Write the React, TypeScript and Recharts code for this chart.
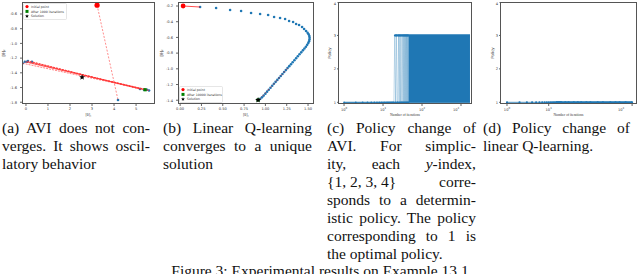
import React from 'react';
import {ScatterChart, Scatter, ComposedChart, Line, Area, XAxis, YAxis, Label} from 'recharts';

const BLUE = '#1f77b4';

// (a) AVI iterates in the (θ1, θ2) plane
const aviInitial = [{x: 3.23, y: -0.48}];
const aviFirstJump = [{x: 3.23, y: -0.48}, {x: 4.18, y: -1.77}];
const aviSwing = [
  {x: -0.15, y: -1.27}, {x: 5.59, y: -1.64}, {x: -0.05, y: -1.25}, {x: 5.5, y: -1.63},
  {x: 0.05, y: -1.25}, {x: 5.36, y: -1.63}, {x: 0.09, y: -1.24}, {x: 5.18, y: -1.62},
  {x: 0.27, y: -1.25},
];
const aviIterates = [...aviSwing, {x: 4.18, y: -1.77}];
const aviLast = [{x: 5.41, y: -1.63}];
const aviSolution = [{x: 2.55, y: -1.46}];
const aviXTicks = [0, 1, 2, 3, 4, 5];
const aviYTicks = [-0.6, -0.8, -1.0, -1.2, -1.4, -1.6, -1.8];

// (b) linear Q-learning iterates
const qInitial = [{x: 0.035, y: -0.2}];
const qPath = [
  {x: 0.035, y: -0.2}, {x: 0.234, y: -0.213}, {x: 0.422, y: -0.225}, {x: 0.586, y: -0.251},
  {x: 0.715, y: -0.264}, {x: 0.832, y: -0.289}, {x: 0.938, y: -0.302}, {x: 1.032, y: -0.315},
  {x: 1.102, y: -0.34}, {x: 1.172, y: -0.353}, {x: 1.231, y: -0.366}, {x: 1.278, y: -0.391},
  {x: 1.325, y: -0.404}, {x: 1.36, y: -0.429}, {x: 1.395, y: -0.442}, {x: 1.43, y: -0.468},
  {x: 1.454, y: -0.493}, {x: 1.477, y: -0.518}, {x: 1.495, y: -0.54}, {x: 1.507, y: -0.56},
  {x: 1.515, y: -0.582}, {x: 1.518, y: -0.605}, {x: 1.517, y: -0.628}, {x: 1.512, y: -0.65},
  {x: 1.503, y: -0.672}, {x: 1.49, y: -0.695}, {x: 1.475, y: -0.718}, {x: 1.458, y: -0.742},
  {x: 1.44, y: -0.765}, {x: 1.42, y: -0.79}, {x: 1.4, y: -0.815}, {x: 1.38, y: -0.84},
  {x: 1.36, y: -0.866}, {x: 1.34, y: -0.891}, {x: 1.32, y: -0.916}, {x: 1.3, y: -0.941},
  {x: 1.28, y: -0.966}, {x: 1.26, y: -0.991}, {x: 1.24, y: -1.016}, {x: 1.22, y: -1.041},
  {x: 1.2, y: -1.066}, {x: 1.18, y: -1.091}, {x: 1.16, y: -1.116}, {x: 1.14, y: -1.141},
  {x: 1.12, y: -1.166}, {x: 1.1, y: -1.191}, {x: 1.08, y: -1.216}, {x: 1.06, y: -1.241},
  {x: 1.04, y: -1.266}, {x: 1.02, y: -1.291}, {x: 1.0, y: -1.316}, {x: 0.98, y: -1.341},
  {x: 0.96, y: -1.363}, {x: 0.94, y: -1.382}, {x: 0.925, y: -1.393},
];
const qRedStart = [{x: 0.035, y: -0.2}, {x: 0.234, y: -0.213}];
const qRedTail = [{x: 1.26, y: -0.991}, {x: 1.1, y: -1.191}, {x: 0.925, y: -1.393}];
const qSolution = [{x: 0.914, y: -1.397}];
const qXTicks = [0, 0.25, 0.5, 0.75, 1.0, 1.25, 1.5];
const qYTicks = [-0.2, -0.4, -0.6, -0.8, -1.0, -1.2, -1.4];

// (c) AVI policy index per iteration (iteration = position + 1)
const aviPolicy = [
  1, 1, 1, 1, 1, 1, 1, 1, 1, 1, 1, 1, 1, 1, 1, 1, 1, 1, 1,
  3, 1, 3, 1, 1, 3, 1, 3, 1, 3, 1, 1, 3, 1, 3, 1, 3, 1, 3, 1, 3, 1, 3, 1, 3, 1,
];
const aviBandIters = [45, 1700];
const aviBandLow = 1;
const aviBandHigh = 3;
const aviTopIters = [20, 1700];
const aviBottomIters = [1, 1700];

// (d) linear Q-learning policy index
const qIters = [1, 2, 3, 4, 5, 6, 7, 8, 9, 10, 11, 12, 13, 14, 15, 16, 17, 18, 19, 20,
  25, 30, 40, 50, 60, 80, 100, 150, 200, 300, 400, 500, 700, 1000];
const qPolicy = [1, 1, 1, 1, 1, 1, 1, 1, 1, 1, 1, 1, 1, 1, 1, 1, 1, 1, 1, 1,
  1, 1, 1, 1, 1, 1, 1, 1, 1, 1, 1, 1, 1, 1];
const qDenseIters = [15, 1000];

const logTicks = [1, 10, 100, 1000];
const policyTicks = [1, 2, 3, 4];

const aviRows = [
  ...aviPolicy.map((p, i) => ({it: i + 1, policy: p})),
  ...aviBandIters.map((it) => ({it, band: [aviBandLow, aviBandHigh]})),
  ...aviTopIters.map((it) => ({it, top: aviBandHigh})),
  ...aviBottomIters.map((it) => ({it, bottom: aviBandLow})),
].sort((a, b) => a.it - b.it);

const qRows = [
  ...qIters.map((it, i) => ({it, policy: qPolicy[i]})),
  ...qDenseIters.map((it) => ({it, dense: 1})),
].sort((a, b) => a.it - b.it);

const tickStyle = {fontSize: 3.6, fill: '#333', fontFamily: 'DejaVu Sans'};

const dot = (r: number, fill: string) => (p: any) => <circle cx={p.cx} cy={p.cy} r={r} fill={fill} />;
const square = (s: number, fill: string) => (p: any) =>
  <rect x={p.cx - s / 2} y={p.cy - s / 2} width={s} height={s} fill={fill} />;
const starPath = (cx: number, cy: number, r: number) => {
  const pts = [];
  for (let i = 0; i < 10; i++) {
    const rr = i % 2 === 0 ? r : r * 0.45;
    const a = -Math.PI / 2 + (i * Math.PI) / 5;
    pts.push(`${cx + rr * Math.cos(a)},${cy + rr * Math.sin(a)}`);
  }
  return 'M' + pts.join('L') + 'Z';
};
const star = (r: number) => (p: any) => <path d={starPath(p.cx, p.cy, r)} fill="#000" />;
const none = () => <g />;

const yLabel = (text: string, dx: number) => (props: any) => {
  const {x, y, height} = props.viewBox;
  const cx = x + dx;
  const cy = y + height / 2;
  return (
    <text x={cx} y={cy} transform={`rotate(-90 ${cx} ${cy})`} textAnchor="middle"
      dominantBaseline="middle" fontSize={4} fill="#333" fontFamily="DejaVu Sans">{text}</text>
  );
};

const PowTick = (props: any) => {
  const {x, y, payload} = props;
  const exp = Math.round(Math.log10(payload.value));
  return (
    <text x={x} y={y + 3.5} textAnchor="middle" fontSize={3.6} fill="#333" fontFamily="DejaVu Sans">
      10<tspan dy={-1.4} fontSize={2.6}>{exp}</tspan>
    </text>
  );
};

const Frame = ({left, top, width, height}: any) => (
  <div style={{position: 'absolute', left, top, width, height, boxSizing: 'border-box',
    border: '1px solid #555', pointerEvents: 'none'}} />
);

const legendEntries = (last: string) => [
  {kind: 'circle', color: 'red', text: 'Initial point'},
  {kind: 'square', color: 'green', text: last},
  {kind: 'star', color: '#000', text: 'Solution'},
];

const MarkerLegend = ({left, top, last}: any) => (
  <svg style={{position: 'absolute', left, top}} width={44} height={17}>
    <rect x={0.5} y={0.5} width={43} height={16} rx={1} fill="#fff" fillOpacity={0.85} stroke="#ccc" strokeWidth={0.5} />
    {legendEntries(last).map((e, i) => {
      const cy = 3.6 + i * 4.8;
      return (
        <g key={i}>
          {e.kind === 'circle' && <circle cx={4} cy={cy} r={1.6} fill={e.color} />}
          {e.kind === 'square' && <rect x={2.5} y={cy - 1.5} width={3} height={3} fill={e.color} />}
          {e.kind === 'star' && <path d={starPath(4, cy, 2)} fill={e.color} />}
          <text x={8} y={cy + 1.2} fontSize={3.2} fill="#333" fontFamily="DejaVu Sans">{e.text}</text>
        </g>
      );
    })}
  </svg>
);

const captionFont = {fontFamily: '"Liberation Serif", "Times New Roman", serif', fontSize: 15.5, lineHeight: '18px', color: '#111'};

const Caption = ({left, width, lines}: any) => (
  <div style={{position: 'absolute', left, top: 119, width, ...captionFont}}>
    {lines.map((l: any, i: number) => {
      const last = i === lines.length - 1;
      return (
        <div key={i} style={{textAlign: last ? 'left' : 'justify', textAlignLast: last ? 'left' : 'justify', whiteSpace: 'nowrap'}}>{l}</div>
      );
    })}
  </div>
);

const margin = {top: 0, right: 0, bottom: 0, left: 0};

export default function App() {
  return (
    <div style={{position: 'absolute', left: 0, top: 0, width: 640, height: 274, background: '#fff', overflow: 'hidden'}}>
      {/* (a) */}
      <div style={{position: 'absolute', left: 0, top: 2}}>
        <ScatterChart width={155} height={116} margin={margin}>
          <XAxis type="number" dataKey="x" domain={[-0.18, 5.86]} ticks={aviXTicks} allowDataOverflow
            axisLine={false} tickSize={2} tickMargin={1} tick={tickStyle} height={14}
            tickFormatter={(v: number) => String(v)}>
            <Label value="[θ]₁" position="insideBottom" offset={2} fontSize={4} fill="#333" />
          </XAxis>
          <YAxis type="number" dataKey="y" domain={[-1.824, -0.437]} ticks={aviYTicks} allowDataOverflow
            axisLine={false} tickSize={2} tickMargin={3} tick={tickStyle} width={22}
            tickFormatter={(v: number) => v.toFixed(1)}>
            <Label content={yLabel('[θ]₂', 4)} />
          </YAxis>
          <Scatter data={aviIterates} shape={dot(1.3, BLUE)} isAnimationActive={false} />
          <Scatter data={aviSwing} shape={none} line={{stroke: '#ff3030', strokeOpacity: 0.6, strokeWidth: 1, strokeDasharray: '2 1'}}
            lineType="joint" isAnimationActive={false} />
          <Scatter data={aviFirstJump} shape={none} line={{stroke: '#ff3030', strokeOpacity: 0.55, strokeWidth: 1, strokeDasharray: '2 1.5'}}
            lineType="joint" isAnimationActive={false} />
          <Scatter data={aviSolution} shape={star(3)} isAnimationActive={false} />
          <Scatter data={aviLast} shape={square(3.2, 'green')} isAnimationActive={false} />
          <Scatter data={aviInitial} shape={dot(2.6, 'red')} isAnimationActive={false} />
        </ScatterChart>
      </div>
      <Frame left={22} top={2} width={133} height={102} />
      <MarkerLegend left={23} top={3} last="After 1000 iterations" />

      {/* (b) */}
      <div style={{position: 'absolute', left: 156, top: 2}}>
        <ScatterChart width={158} height={116} margin={margin}>
          <XAxis type="number" dataKey="x" domain={[-0.025, 1.57]} ticks={qXTicks} allowDataOverflow
            axisLine={false} tickSize={2} tickMargin={1} tick={tickStyle} height={14}
            tickFormatter={(v: number) => v.toFixed(2)}>
            <Label value="[θ]₁" position="insideBottom" offset={2} fontSize={4} fill="#333" />
          </XAxis>
          <YAxis type="number" dataKey="y" domain={[-1.448, -0.149]} ticks={qYTicks} allowDataOverflow
            axisLine={false} tickSize={2} tickMargin={3} tick={tickStyle} width={22}
            tickFormatter={(v: number) => v.toFixed(1)}>
            <Label content={yLabel('[θ]₂', 6)} />
          </YAxis>
          <Scatter data={qPath} shape={dot(1.3, BLUE)} isAnimationActive={false} />
          <Scatter data={qRedStart} shape={none} line={{stroke: 'red', strokeOpacity: 0.7, strokeWidth: 1}}
            lineType="joint" isAnimationActive={false} />
          <Scatter data={qRedTail} shape={none} line={{stroke: 'red', strokeOpacity: 0.6, strokeWidth: 0.8, strokeDasharray: '2 2'}}
            lineType="joint" isAnimationActive={false} />
          <Scatter data={qSolution} shape={square(3.2, 'green')} isAnimationActive={false} />
          <Scatter data={qSolution} shape={star(3)} isAnimationActive={false} />
          <Scatter data={qInitial} shape={dot(2.4, 'red')} isAnimationActive={false} />
        </ScatterChart>
      </div>
      <Frame left={178} top={2} width={136} height={102} />
      <MarkerLegend left={179} top={86} last="After 10000 iterations" />

      {/* (c) */}
      <div style={{position: 'absolute', left: 316, top: 2}}>
        <ComposedChart width={156} height={116} data={aviRows} margin={margin}>
          <XAxis type="number" dataKey="it" scale="log" domain={[0.7, 1915]} ticks={logTicks} allowDataOverflow
            axisLine={false} tickSize={2} tickMargin={1} tick={<PowTick />} height={14}>
            <Label value="Number of iterations" position="insideBottom" offset={2} fontSize={3.6} fill="#333" />
          </XAxis>
          <YAxis type="number" domain={[0.95, 4]} ticks={policyTicks} allowDataOverflow
            axisLine={false} tickSize={1} tickMargin={1} tick={tickStyle} width={22}>
            <Label content={yLabel('Policy', 14)} />
          </YAxis>
          <Area dataKey="band" connectNulls fill={BLUE} fillOpacity={1} stroke="none" isAnimationActive={false} />
          <Line dataKey="policy" connectNulls stroke={BLUE} strokeOpacity={0.45} strokeWidth={0.6}
            dot={{r: 0.9, fill: BLUE, stroke: 'none'}} isAnimationActive={false} />
          <Line dataKey="top" connectNulls stroke={BLUE} strokeWidth={2.2} dot={false} isAnimationActive={false} />
          <Line dataKey="bottom" connectNulls stroke={BLUE} strokeWidth={1} dot={false} isAnimationActive={false} />
        </ComposedChart>
      </div>
      <Frame left={338} top={2} width={134} height={102} />

      {/* (d) */}
      <div style={{position: 'absolute', left: 478, top: 2}}>
        <ComposedChart width={159} height={116} data={qRows} margin={margin}>
          <XAxis type="number" dataKey="it" scale="log" domain={[0.68, 1310]} ticks={logTicks} allowDataOverflow
            axisLine={false} tickSize={2} tickMargin={1} tick={<PowTick />} height={14}>
            <Label value="Number of iterations" position="insideBottom" offset={2} fontSize={3.6} fill="#333" />
          </XAxis>
          <YAxis type="number" domain={[0.95, 4]} ticks={policyTicks} allowDataOverflow
            axisLine={false} tickSize={1} tickMargin={1} tick={tickStyle} width={22}>
            <Label content={yLabel('Policy', 15)} />
          </YAxis>
          <Line dataKey="dense" connectNulls stroke={BLUE} strokeWidth={2.4} dot={false} isAnimationActive={false} />
          <Line dataKey="policy" connectNulls stroke={BLUE} strokeWidth={0.8}
            dot={{r: 1.1, fill: BLUE, stroke: 'none'}} isAnimationActive={false} />
        </ComposedChart>
      </div>
      <Frame left={500} top={2} width={137} height={102} />

      <Caption left={2} width={148} lines={['(a) AVI does not con-', 'verges. It shows oscil-', 'latory behavior']} />
      <Caption left={163} width={149} lines={['(b) Linear Q-learning', 'converges to a unique', 'solution']} />
      <Caption left={327} width={149} lines={[
        '(c) Policy change of',
        'AVI. For simplic-',
        <>ity, each <i>y</i>-index,</>,
        <><span style={{display: 'inline-block'}}>{'{1, 2, 3, 4}'}</span> corre-</>,
        'sponds to a determin-',
        'istic policy. The policy',
        'corresponding to 1 is',
        'the optimal policy.',
      ]} />
      <Caption left={483} width={147} lines={['(d) Policy change of', 'linear Q-learning.']} />

      <div style={{position: 'absolute', left: 0, top: 262, width: 640, textAlign: 'center', ...captionFont}}>
        Figure 3: Experimental results on Example 13.1
      </div>
    </div>
  );
}
